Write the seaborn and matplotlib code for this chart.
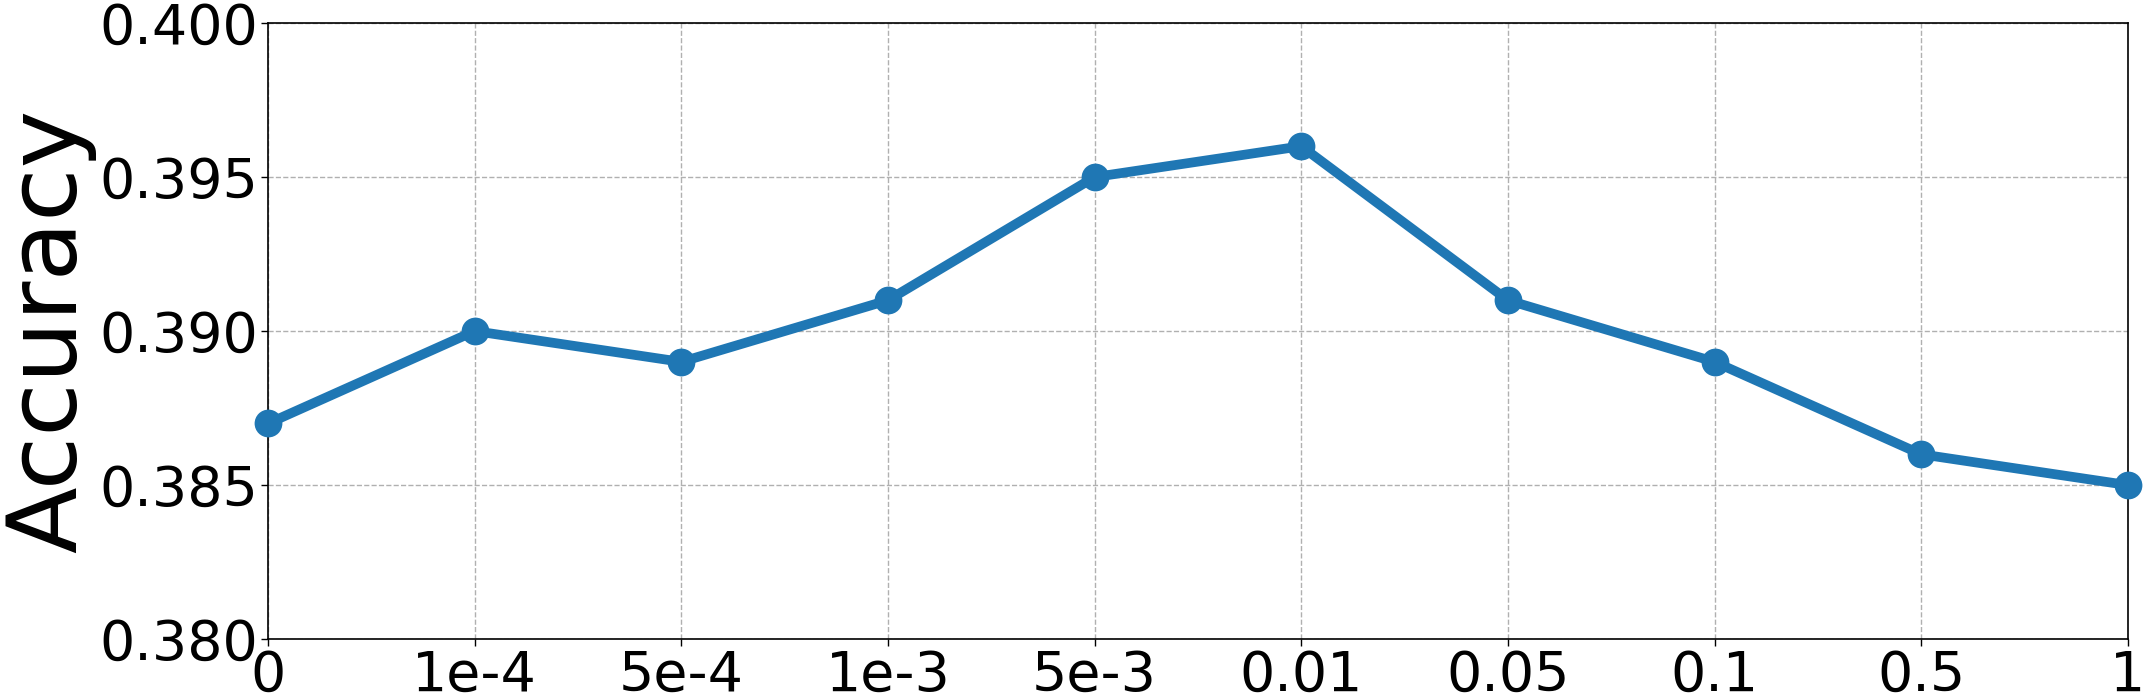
import matplotlib
matplotlib.use('Agg')
import matplotlib.pyplot as plt
import numpy as np
import pandas as pd
import seaborn as sns

# values
x_labels = ['0', '1e-4', '5e-4', '1e-3', '5e-3', '0.01', '0.05', '0.1', '0.5', '1']
accuracy = [0.387, 0.390, 0.389, 0.391, 0.395, 0.396, 0.391, 0.389, 0.386, 0.385]

df = pd.DataFrame({'pos': np.arange(len(x_labels)), 'Accuracy': accuracy})

sns.set_style('ticks')
plt.rcParams['font.family'] = ['DejaVu Sans']
plt.rcParams['text.color'] = 'black'
plt.rcParams['axes.labelcolor'] = 'black'
plt.rcParams['xtick.color'] = 'black'
plt.rcParams['ytick.color'] = 'black'

fig = plt.figure(figsize=(21.44, 6.97), dpi=100)
ax = fig.add_axes([0.125, 0.083, 0.8675, 0.884])

sns.lineplot(data=df, x='pos', y='Accuracy', ax=ax, color='#1f77b4',
             linewidth=7, marker='o', markersize=20, markeredgewidth=0,
             clip_on=False, zorder=3)

ax.set_xlim(0, len(x_labels) - 1)
ax.set_ylim(0.38, 0.40)
ax.set_xticks(np.arange(len(x_labels)))
ax.set_xticklabels(x_labels)
ax.set_yticks([0.380, 0.385, 0.390, 0.395, 0.400])
ax.set_yticklabels(['0.380', '0.385', '0.390', '0.395', '0.400'])
ax.tick_params(axis='both', labelsize=40, length=5, width=1, pad=2)
ax.grid(True, linestyle='--', color='#b0b0b0', linewidth=1)
ax.set_axisbelow(True)
for s in ax.spines.values():
    s.set_linewidth(1.2)
    s.set_color('black')
ax.set_xlabel('')
ax.set_ylabel('Accuracy', fontsize=70, labelpad=2)

fig.savefig('out.png', dpi=100)
